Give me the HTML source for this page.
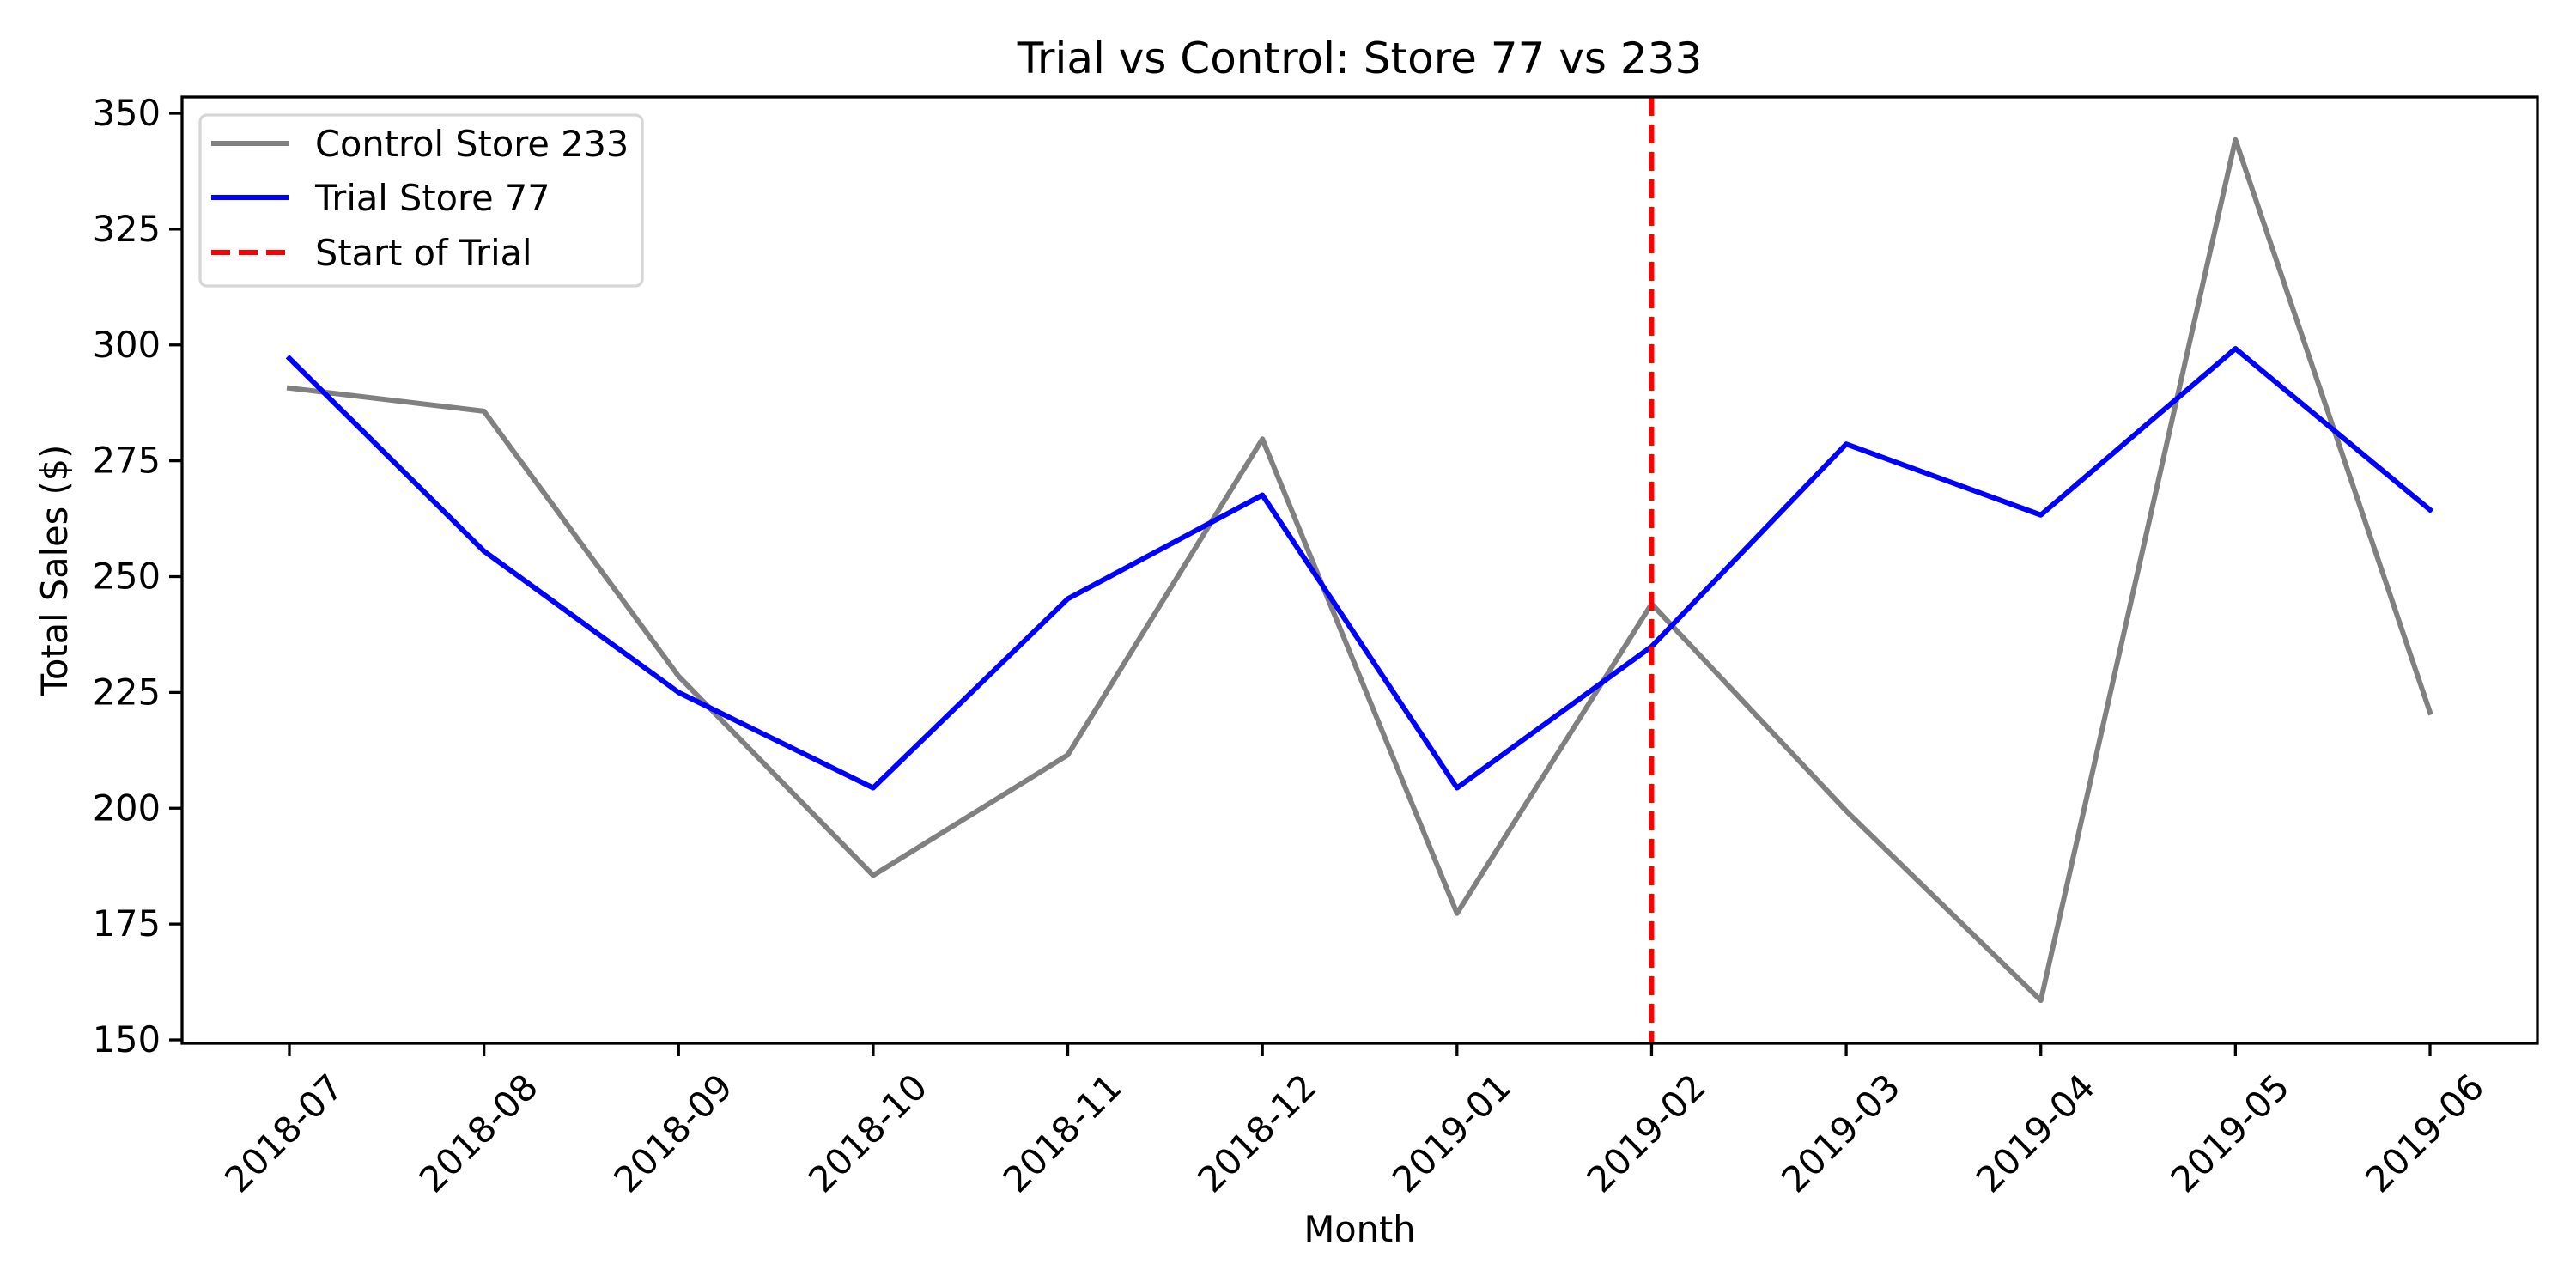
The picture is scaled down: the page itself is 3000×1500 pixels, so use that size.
<!DOCTYPE html>
<html><head><meta charset="utf-8"><style>html,body{margin:0;padding:0;background:#fff}svg{display:block}text{font-family:"DejaVu Sans","Liberation Sans",sans-serif;fill:#000}</style></head>
<body>
<svg id="chart" width="3000" height="1500" viewBox="0 0 3000 1500" xmlns="http://www.w3.org/2000/svg">
<rect width="3000" height="1500" fill="#fff"/>
<g id="plot"></g>
</svg>
<script>
const categories = ["2018-07","2018-08","2018-09","2018-10","2018-11","2018-12","2019-01","2019-02","2019-03","2019-04","2019-05","2019-06"];
const controlValues = [290.7,285.7,228.5,185.5,211.5,279.7,177.3,244.1,199.4,158.5,344.3,220.7];
const trialValues = [297.1,255.5,225.0,204.4,245.2,267.6,204.4,234.9,278.6,263.3,299.2,264.4];
const yTicks = [150,175,200,225,250,275,300,325,350];
const trialStart = "2019-02";

const NS = "http://www.w3.org/2000/svg";
const L = 212, R = 2955, T = 113, B = 1215;
const x0 = 337, dx = (2830 - 337) / 11;
function xScale(i) { return x0 + i * dx; }
function yScale(v) { return 1211 - (v - 150) * (1211 - 132) / 200; }
const g = document.getElementById('plot');
function mk(tag, attrs, parent) {
  const e = document.createElementNS(NS, tag);
  for (const k in attrs) e.setAttribute(k, attrs[k]);
  (parent || g).appendChild(e);
  return e;
}

// y ticks
yTicks.forEach(v => {
  const y = yScale(v);
  const t = mk('line', {x1: L - 15, x2: L, y1: y, y2: y, stroke: '#000', 'stroke-width': 3.3});
  
  
  const tx = mk('text', {x: L - 25, y: y + 14, 'font-size': 41.5, 'text-anchor': 'end'});
  tx.textContent = v;
  
  
});
// x ticks
categories.forEach((c, i) => {
  const x = xScale(i);
  const t = mk('line', {x1: x, x2: x, y1: B, y2: B + 15, stroke: '#000', 'stroke-width': 3.3});
  
  
  const tx = mk('text', {x: x - 6, y: 1334, 'font-size': 41.5, 'text-anchor': 'middle', transform: 'rotate(-45 ' + (x - 6) + ' 1320)'});
  tx.textContent = c;
  
  
});

function series(vals, color, name) {
  const p = mk('polyline', {points: vals.map((v, i) => xScale(i) + ',' + yScale(v)).join(' '), fill: 'none', stroke: color, 'stroke-width': 6, 'stroke-linejoin': 'round', 'stroke-linecap': 'square'});
  
  
}
series(controlValues, '#808080', 'control-store-233-line');
series(trialValues, '#0000ff', 'trial-store-77-line');

const sx = xScale(categories.indexOf(trialStart));
const vl = mk('line', {x1: sx, x2: sx, y1: T, y2: B, stroke: '#ff0000', 'stroke-width': 6, 'stroke-dasharray': '22 10'});



const frame = mk('rect', {x: L, y: T, width: R - L, height: B - T, fill: 'none', stroke: '#000', 'stroke-width': 3.3});



// legend
const lg = mk('g', {});


mk('rect', {x: 233, y: 134, width: 515, height: 199, rx: 8, fill: '#fff', 'fill-opacity': 0.8, stroke: '#d6d6d6', 'stroke-width': 3.3}, lg);
const entries = [["Control Store 233", '#808080', null, 167], ["Trial Store 77", '#0000ff', null, 230], ["Start of Trial", '#ff0000', '22 10', 294]];
entries.forEach(en => {
  const ln = mk('line', {x1: 246, x2: 336, y1: en[3], y2: en[3], stroke: en[1], 'stroke-width': 6}, lg);
  if (en[2]) ln.setAttribute('stroke-dasharray', en[2]);
  
  
  const tx = mk('text', {x: 367, y: en[3] + 15, 'font-size': 41.5}, lg);
  tx.textContent = en[0];
  
  
});

const title = mk('text', {x: (L + R) / 2, y: 85, 'font-size': 50, 'text-anchor': 'middle'});
title.textContent = 'Trial vs Control: Store 77 vs 233';


const xl = mk('text', {x: (L + R) / 2, y: 1446, 'font-size': 41.5, 'text-anchor': 'middle'});
xl.textContent = 'Month';


const yl = mk('text', {x: 0, y: 0, 'font-size': 41.5, 'text-anchor': 'middle', transform: 'translate(78 ' + (T + B) / 2 + ') rotate(-90)'});
yl.textContent = 'Total Sales ($)';


</script>
</body></html>
